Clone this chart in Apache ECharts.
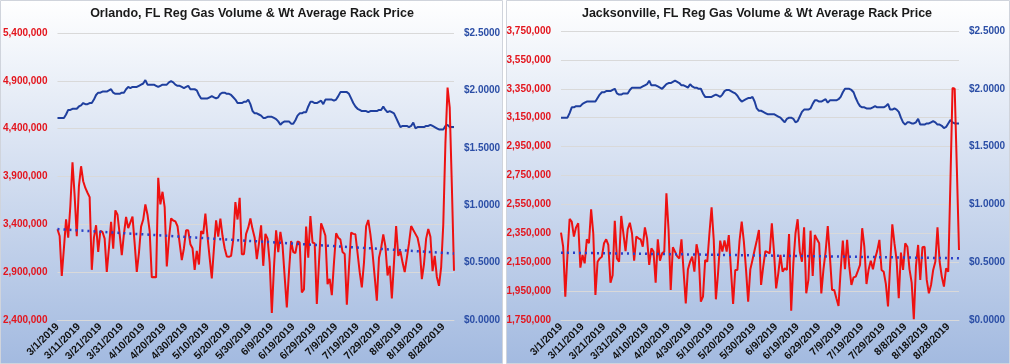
<!DOCTYPE html>
<html><head><meta charset="utf-8">
<script src="https://cdn.jsdelivr.net/npm/echarts@6/dist/echarts.min.js"></script>
<style>html,body{margin:0;padding:0;background:#fff}#c{width:1010px;height:364px}</style>
</head><body><div id="c"></div><script>
// ---- Data ----
const titles = ['Orlando, FL Reg Gas Volume & Wt Average Rack Price', 'Jacksonville, FL Reg Gas Volume & Wt Average Rack Price'];
const startDate = [2019, 2, 1]; // 3/1/2019
const dayCount = 186;          // 3/1/2019 .. 9/2/2019
const categories = [];
for (let i = 0; i < dayCount; i++) {
  const d = new Date(Date.UTC(startDate[0], startDate[1], startDate[2] + i));
  categories.push((d.getUTCMonth() + 1) + '/' + d.getUTCDate() + '/' + d.getUTCFullYear());
}
const orlandoVolume = [
3348000,3278000,2861000,3150000,3452000,3260000,3591000,4049000,3700000,3275000,
3799000,4007000,3850000,3780000,3730000,3684000,2924000,3260000,3390000,3111000,
3330000,3320000,3250000,2903000,3150000,3425000,3146000,3546000,3500000,3300000,
3077000,3300000,3477000,3360000,3420000,3480000,3200000,2903000,3100000,3376000,
3450000,3608000,3500000,3330000,2845000,2850000,2845000,3886000,3608000,3740000,
3580000,2959000,3250000,3462000,3440000,3430000,3380000,3200000,3025000,3150000,
3337000,3337000,3192000,3150000,2924000,3122000,2980000,3330000,3300000,3511000,
3270000,3050000,2834000,3150000,3442000,3270000,3460000,3280000,3150000,3063000,
3060000,3070000,3240000,3632000,3450000,3677000,3087000,3087000,3300000,3365000,
3460000,3350000,3260000,3035000,3200000,3390000,2966000,3300000,3250000,3000000,
2473000,2950000,3337000,3110000,3320000,3180000,2850000,2532000,2900000,3226000,
3110000,3100000,3220000,3210000,2688000,2720000,3376000,3050000,3486000,3210000,
3200000,2567000,3000000,3410000,3350000,3280000,2775000,2830000,2660000,3000000,
3306000,3260000,3240000,3110000,3090000,2560000,2950000,3313000,3300000,3295000,
3100000,2900000,2740000,3000000,3380000,3445000,3295000,3100000,2850000,2602000,
3050000,3150000,3295000,3170000,2865000,2965000,2626000,3000000,3382000,3070000,
3120000,3000000,2900000,3050000,3200000,3382000,3340000,3300000,3260000,3150000,
2827000,2985000,3250000,3350000,3270000,2910000,3070000,2850000,2757000,2950000,
3400000,4250000,4830000,4620000,3800000,2914000];
const orlandoPrice = [
1.76,1.76,1.76,1.76,1.79,1.83,1.83,1.84,1.84,1.84,
1.86,1.87,1.89,1.88,1.88,1.89,1.89,1.92,1.96,1.98,
1.98,1.99,1.99,1.99,2.00,2.01,1.98,1.97,1.97,1.97,
1.98,1.98,2.01,2.03,2.02,2.03,2.03,2.03,2.04,2.05,
2.06,2.09,2.05,2.05,2.05,2.05,2.04,2.03,2.04,2.05,
2.05,2.05,2.07,2.08,2.07,2.05,2.04,2.04,2.03,2.02,
2.03,2.04,2.01,2.01,2.01,2.00,1.96,1.93,1.93,1.93,
1.93,1.94,1.95,1.94,1.93,1.94,1.97,1.98,1.98,1.97,
1.97,1.96,1.94,1.92,1.89,1.89,1.89,1.90,1.90,1.92,
1.88,1.82,1.80,1.80,1.79,1.78,1.76,1.76,1.77,1.77,
1.77,1.76,1.75,1.73,1.70,1.72,1.73,1.73,1.73,1.71,
1.71,1.74,1.78,1.80,1.80,1.81,1.81,1.86,1.90,1.90,
1.89,1.89,1.90,1.91,1.88,1.92,1.92,1.92,1.92,1.91,
1.92,1.95,1.985,1.985,1.985,1.985,1.97,1.93,1.89,1.86,
1.84,1.83,1.82,1.82,1.82,1.81,1.82,1.82,1.82,1.82,
1.83,1.83,1.86,1.83,1.81,1.82,1.81,1.80,1.76,1.72,
1.68,1.69,1.69,1.69,1.68,1.69,1.72,1.67,1.68,1.68,
1.68,1.68,1.69,1.69,1.70,1.69,1.68,1.67,1.66,1.66,
1.66,1.69,1.70,1.68,1.68,1.68];
const orlandoTrend = [3350000, 3095000];
const jaxVolume = [
2354000,2257000,1911000,2200000,2449000,2430000,2327000,2391000,2419000,2112000,
2200000,2142000,2308000,2281000,2516000,2350000,1923000,2153000,2176000,2188000,
2281000,2308000,2269000,2008000,2060000,2437000,2176000,2153000,2470000,2350000,
2227000,2378000,2423000,2350000,2160000,2327000,2315000,2308000,2257000,2391000,
2315000,2131000,2246000,2223000,2008000,2308000,2160000,2211000,2223000,2627000,
2373000,1958000,2253000,2223000,2190000,2176000,2308000,2084000,1865000,2100000,
2153000,2188000,2084000,2274000,2200000,1877000,1911000,2165000,2153000,2350000,
2530000,2304000,1893000,2073000,2299000,2223000,2300000,2223000,2338000,2096000,
1861000,2096000,2096000,2300000,2430000,2292000,2100000,1877000,2100000,2165000,
2234000,2300000,2373000,1992000,2119000,2227000,2220000,2211000,2419000,2223000,
1969000,2073000,2200000,2084000,2107000,2096000,2345000,1814000,2142000,2350000,
2447000,2223000,2153000,2391000,1935000,2027000,2368000,2055000,2338000,2308000,
2281000,1934000,2100000,2223000,2400000,2188000,1958000,1958000,1900000,1847000,
2096000,2300000,2101000,2304000,2119000,1992000,2045000,2050000,2090000,2131000,
2385000,2257000,1999000,2100000,2160000,2101000,2176000,2230000,2304000,2096000,
2084000,2000000,1843000,2131000,2412000,2280000,2165000,1900000,2216000,2096000,
2281000,2257000,2100000,2008000,1755000,2124000,2269000,2027000,2253000,2257000,
2027000,1934000,1992000,2096000,2153000,2391000,2153000,2050000,1981000,2107000,
2084000,2700000,3355000,3350000,2800000,2234000];
const jaxPrice = [
1.75,1.75,1.75,1.75,1.79,1.84,1.84,1.85,1.85,1.85,
1.87,1.88,1.89,1.89,1.89,1.89,1.89,1.92,1.95,1.97,
1.97,1.98,1.98,1.98,1.99,2.00,1.96,1.95,1.95,1.96,
1.96,1.96,1.99,2.01,2.01,2.01,2.01,2.01,2.02,2.03,
2.04,2.07,2.03,2.03,2.03,2.02,2.01,2.00,2.02,2.04,
2.05,2.05,2.06,2.07,2.06,2.05,2.03,2.03,2.02,2.01,
2.04,2.02,2.01,2.01,2.00,2.00,1.96,1.93,1.93,1.93,
1.93,1.94,1.95,1.94,1.93,1.95,1.98,1.99,1.99,1.98,
1.97,1.96,1.94,1.91,1.89,1.90,1.91,1.92,1.92,1.93,
1.89,1.83,1.81,1.81,1.80,1.79,1.78,1.78,1.78,1.78,
1.77,1.76,1.75,1.73,1.71,1.74,1.75,1.75,1.74,1.71,
1.72,1.76,1.80,1.82,1.82,1.82,1.83,1.87,1.90,1.90,
1.89,1.89,1.90,1.91,1.88,1.90,1.90,1.90,1.90,1.91,
1.93,1.97,2.00,2.00,2.00,1.99,1.97,1.92,1.88,1.85,
1.84,1.84,1.83,1.83,1.83,1.84,1.85,1.84,1.84,1.84,
1.84,1.85,1.87,1.82,1.82,1.83,1.82,1.80,1.75,1.71,
1.69,1.71,1.71,1.70,1.70,1.71,1.74,1.69,1.69,1.69,
1.70,1.70,1.71,1.72,1.71,1.69,1.69,1.68,1.66,1.67,
1.70,1.73,1.71,1.70,1.70,1.70];
const jaxTrend = [2216000, 2177000];
// axis ranges (tick labels)
const orlandoVolAxis = [2400000, 5400000, 500000];
const jaxVolAxis = [1750000, 3750000, 200000];
const priceAxis = [0, 2.5, 0.5];

// ---- Chart ----
const FONT = 'Liberation Sans';
const RED = '#ee1111', BLUE = '#1f3f9e', TREND = '#2a3fc8';
function comma(v) { return String(Math.round(v)).replace(/\B(?=(\d{3})+(?!\d))/g, ','); }
const panels = [
  {x: 0, w: 503, grid: {left: 56, top: 33, width: 398, height: 288}, titleX: 252, vol: orlandoVolume, price: orlandoPrice, trend: orlandoTrend, axis: orlandoVolAxis},
  {x: 506, w: 504, grid: {left: 561, top: 31, width: 398, height: 289}, titleX: 757, vol: jaxVolume, price: jaxPrice, trend: jaxTrend, axis: jaxVolAxis}
];
const option = {
  animation: false,
  textStyle: {fontFamily: FONT},
  graphic: panels.map(p => ({
    type: 'rect', z: -10, silent: true,
    shape: {x: p.x + 0.5, y: 0.5, width: p.w - 1, height: 363},
    style: {
      fill: {type: 'linear', x: 0, y: 0, x2: 0, y2: 1, colorStops: [{offset: 0, color: '#ffffff'}, {offset: 1, color: '#a3bae0'}]},
      stroke: '#d0d4dc', lineWidth: 1
    }
  })),
  title: panels.map((p, i) => ({
    text: titles[i], left: p.titleX, top: 7, padding: 0, textAlign: 'center',
    textStyle: {fontFamily: FONT, fontSize: 12.5, fontWeight: 'bold', color: '#1a1a1a'}
  })),
  grid: panels.map(p => Object.assign({containLabel: false}, p.grid)),
  xAxis: panels.map((p, i) => ({
    type: 'category', gridIndex: i, data: categories, boundaryGap: false,
    axisLine: {lineStyle: {color: '#d9d9d9'}}, axisTick: {show: false},
    axisLabel: {interval: 9, rotate: 45, margin: 5, fontFamily: FONT, fontSize: 10.5, fontWeight: 'bold', color: '#111'},
    splitLine: {show: false}
  })),
  yAxis: [].concat(...panels.map((p, i) => [
    {type: 'value', gridIndex: i, position: 'left', min: p.axis[0], max: p.axis[1], interval: p.axis[2],
     axisLine: {show: false}, axisTick: {show: false},
     axisLabel: {margin: 10, formatter: v => comma(v), fontFamily: FONT, fontSize: 10, fontWeight: 'bold', color: '#e3151d'},
     splitLine: {lineStyle: {color: '#d9d9d9', width: 1}}},
    {type: 'value', gridIndex: i, position: 'right', min: priceAxis[0], max: priceAxis[1], interval: priceAxis[2],
     axisLine: {show: false}, axisTick: {show: false},
     axisLabel: {margin: 10, formatter: v => '$' + v.toFixed(4), fontFamily: FONT, fontSize: 10, fontWeight: 'bold', color: '#2b4ea6'},
     splitLine: {show: false}}
  ])),
  series: [].concat(...panels.map((p, i) => [
    {type: 'line', xAxisIndex: i, yAxisIndex: i * 2 + 1, data: p.price, symbol: 'none', lineStyle: {color: BLUE, width: 2}, z: 2},
    {type: 'line', xAxisIndex: i, yAxisIndex: i * 2, data: p.vol, symbol: 'none', lineStyle: {color: RED, width: 2}, z: 3},
    {type: 'line', xAxisIndex: i, yAxisIndex: i * 2, data: [[categories[0], p.trend[0]], [categories[dayCount - 1], p.trend[1]]],
     symbol: 'none', lineStyle: {color: TREND, width: 2.5, type: [2, 4]}, z: 4}
  ]))
};
const chart = echarts.init(document.getElementById('c'), null, {renderer: 'canvas'});
chart.setOption(option);
</script></body></html>
